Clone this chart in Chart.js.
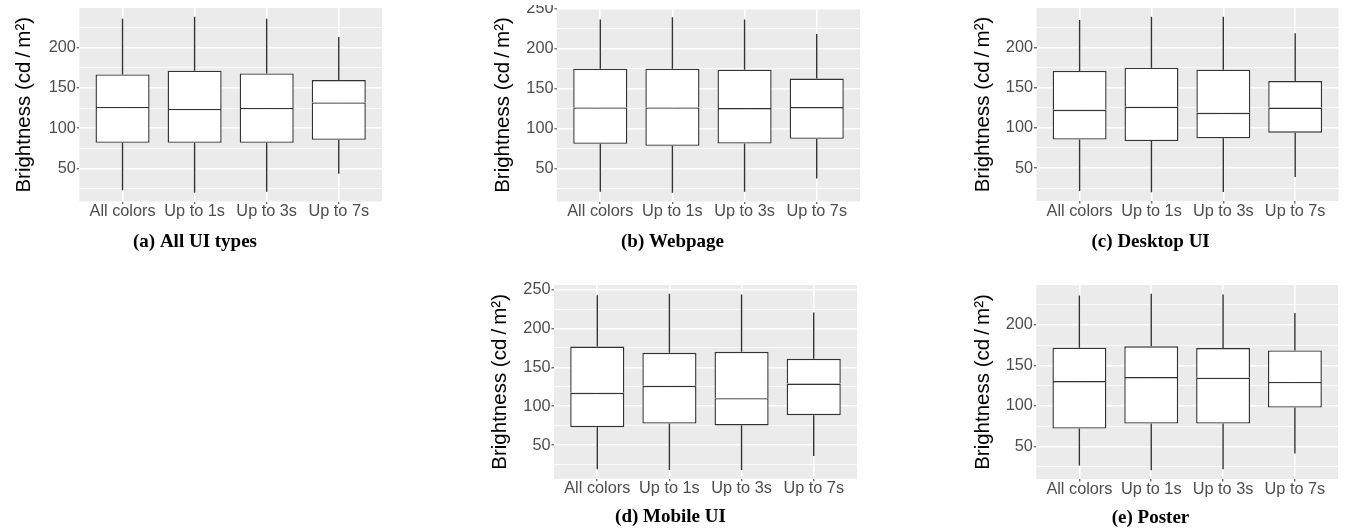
<!DOCTYPE html>
<html>
<head>
<meta charset="utf-8">
<script src="https://cdn.jsdelivr.net/npm/chart.js@4.4.1/dist/chart.umd.min.js"></script>
<style>
  html, body { margin: 0; padding: 0; background: #fff; }
  body { width: 1345px; height: 531px; position: relative; overflow: hidden; }
  canvas { position: absolute; }
</style>
</head>
<body>
<canvas id="chartA"></canvas>
<canvas id="chartB"></canvas>
<canvas id="chartC"></canvas>
<canvas id="chartD"></canvas>
<canvas id="chartE"></canvas>
<script>
// categories + tick labels
const categories = ["All colors", "Up to 1s", "Up to 3s", "Up to 7s"];
const majorTicks = [50, 100, 150, 200, 250];
const minorTicks = [25, 75, 125, 175, 225];
const yTitle = "Brightness (cd\u2009/\u2009m\u00b2)";

// (a) All UI types
const allMin = [22.7, 19.8, 21.0, 43.4];
const allQ1  = [81.8, 81.8, 81.8, 85.5];
const allMed = [126.4, 123.9, 125.2, 132.1];
const allQ3  = [166.9, 171.5, 168.1, 159.9];
const allMax = [236.0, 238.5, 236.0, 213.3];

// (b) Webpage
const webMin = [20.9, 19.8, 21.1, 37.6];
const webQ1  = [81.0, 78.5, 81.4, 87.3];
const webMed = [126.6, 126.6, 125.9, 127.1];
const webQ3  = [175.1, 175.1, 173.9, 162.7];
const webMax = [236.6, 239.5, 236.6, 218.7];

// (c) Desktop UI
const deskMin = [21.5, 19.9, 20.3, 38.9];
const deskQ1  = [85.4, 83.6, 87.0, 94.0];
const deskMed = [122.5, 126.2, 118.7, 125.2];
const deskQ3  = [170.8, 174.9, 172.4, 158.3];
const deskMax = [234.3, 238.2, 238.2, 217.7];

// (d) Mobile UI
const mobMin = [19.0, 18.1, 18.1, 36.1];
const mobQ1  = [73.0, 77.7, 75.2, 88.5];
const mobMed = [117.2, 126.2, 110.3, 129.2];
const mobQ3  = [176.8, 168.7, 170.0, 161.0];
const mobMax = [242.9, 244.6, 243.8, 220.6];

// (e) Poster
const posMin = [26.6, 20.8, 22.0, 41.3];
const posQ1  = [72.1, 78.2, 78.2, 97.9];
const posMed = [130.7, 135.6, 134.8, 129.5];
const posQ3  = [171.7, 173.4, 171.3, 168.4];
const posMax = [236.1, 238.1, 237.3, 214.4];

const BOX_LINE = "#333333";
const TICK_GREY = "#4d4d4d";
const X_AXIS_H = 24;
const CAP_FONT = 19;
const TITLE_FONT = 20.5;
const LINE_W = 1.4;

// page layout of each sub-figure (canvas box + panel edges, page px)
const panels = [
  { id: "chartA", caption: "(a) All UI types", stats: [allMin, allQ1, allMed, allQ3, allMax],
    left: 8,   top: 0,   L: 79.3,   R: 382,    T: 8,   B: 201.5, titleX: 24,  capY: 242 },
  { id: "chartB", caption: "(b) Webpage", stats: [webMin, webQ1, webMed, webQ3, webMax],
    left: 485, top: 5,   L: 557,    R: 860,    T: 8.5, B: 201.5, titleX: 503, capY: 242 },
  { id: "chartC", caption: "(c) Desktop UI", stats: [deskMin, deskQ1, deskMed, deskQ3, deskMax],
    left: 963, top: 0,   L: 1036.5, R: 1338.3, T: 8,   B: 201,   titleX: 983, capY: 242 },
  { id: "chartD", caption: "(d) Mobile UI", stats: [mobMin, mobQ1, mobMed, mobQ3, mobMax],
    left: 484, top: 270, L: 554,    R: 857,    T: 285, B: 478.7, titleX: 500, capY: 517.5 },
  { id: "chartE", caption: "(e) Poster", stats: [posMin, posQ1, posMed, posQ3, posMax],
    left: 963, top: 270, L: 1036.3, R: 1338,   T: 285, B: 479,   titleX: 983, capY: 518 },
];

Chart.defaults.font.family = "'Liberation Sans', Arial, sans-serif";
Chart.defaults.animation = false;

const panelBg = {
  id: "panelBg",
  beforeDraw(chart){
    const { ctx, chartArea: a } = chart;
    ctx.save();
    ctx.fillStyle = "#ebebeb";
    ctx.fillRect(a.left, a.top, a.right - a.left, a.bottom - a.top);
    ctx.restore();
  }
};

function isMajor(v){ return majorTicks.includes(v); }

function buildPanel(p){
  const [lo, q1, med, q3, hi] = p.stats;

  // ggplot-style 5% expansion of the data range
  const dMin = Math.min(...lo), dMax = Math.max(...hi);
  const pad = (dMax - dMin) * 0.05;
  const yMin = dMin - pad, yMax = dMax + pad;

  const el = document.getElementById(p.id);
  const w = Math.ceil(p.R - p.left + 1);
  const h = Math.ceil(p.capY + 16 - p.top);
  el.width = w; el.height = h;
  el.style.left = p.left + "px";
  el.style.top = p.top + "px";

  const capLine = CAP_FONT * 1.2;
  const capPadTop = p.capY - (p.B + X_AXIS_H) - capLine / 2;
  const capPadBottom = h - (p.B - p.top) - X_AXIS_H - capLine - capPadTop;

  const yTickVals = [...majorTicks, ...minorTicks].sort((a, b) => a - b);

  const boxCommon = {
    backgroundColor: "#ffffff",
    borderColor: BOX_LINE,
    borderSkipped: false,
    grouped: false,
    categoryPercentage: 1,
    barPercentage: 0.75,
    inflateAmount: 0,
  };
  const whiskerCommon = {
    backgroundColor: BOX_LINE, borderWidth: 0, grouped: false,
    barThickness: LINE_W, inflateAmount: 0,
  };

  return new Chart(el, {
    type: "bar",
    data: {
      datasets: [
        { ...boxCommon,
          data: categories.map((c, i) => ({ x: i, y: [q1[i], med[i]] })),
          borderWidth: { top: LINE_W, right: LINE_W, bottom: LINE_W, left: LINE_W } },
        { ...boxCommon,
          data: categories.map((c, i) => ({ x: i, y: [med[i], q3[i]] })),
          borderWidth: { top: LINE_W, right: LINE_W, bottom: 0, left: LINE_W } },
        { ...whiskerCommon, data: categories.map((c, i) => ({ x: i, y: [lo[i], q1[i]] })) },
        { ...whiskerCommon, data: categories.map((c, i) => ({ x: i, y: [q3[i], hi[i]] })) },
      ]
    },
    options: {
      responsive: false,
      devicePixelRatio: 1,
      events: [],
      layout: { padding: { top: p.T - p.top, left: 0, right: w - (p.R - p.left), bottom: 0 } },
      plugins: {
        legend: { display: false },
        tooltip: { enabled: false },
        title: {
          display: true,
          position: "bottom",
          text: p.caption,
          color: "#000",
          font: { family: "'Liberation Serif', 'Times New Roman', serif", weight: "bold", size: CAP_FONT, lineHeight: 1.2 },
          padding: { top: capPadTop, bottom: capPadBottom },
        }
      },
      scales: {
        x: {
          type: "linear",
          min: -0.6, max: categories.length - 0.4,
          offset: false,
          afterBuildTicks: s => { s.ticks = categories.map((c, i) => ({ value: i })); },
          afterFit: s => { s.height = X_AXIS_H; s.paddingLeft = 0; s.paddingRight = 0; },
          ticks: {
            callback: v => categories[v],
            color: TICK_GREY, font: { size: 16.3 },
            padding: -2, maxRotation: 0, autoSkip: false,
          },
          grid: { color: "#ffffff", lineWidth: 1.6, offset: false,
                  tickColor: BOX_LINE, tickLength: 2.5, tickWidth: 1 },
          border: { display: false },
        },
        y: {
          type: "linear",
          min: yMin, max: yMax,
          beginAtZero: false,
          afterBuildTicks: s => {
            s.ticks = yTickVals.filter(v => v >= s.min && v <= s.max).map(v => ({ value: v }));
          },
          afterFit: s => { s.width = p.L - p.left; s.paddingTop = 0; s.paddingBottom = 0; },
          ticks: {
            callback: v => isMajor(v) ? String(v) : "",
            color: TICK_GREY, font: { size: 16.3 },
            padding: 1, autoSkip: false,
          },
          grid: {
            color: "#ffffff",
            lineWidth: c => isMajor(c.tick.value) ? 1.6 : 0.8,
            tickColor: c => isMajor(c.tick.value) ? BOX_LINE : "rgba(0,0,0,0)",
            tickLength: 2.5, tickWidth: 1,
          },
          border: { display: false },
          title: {
            display: true,
            text: yTitle,
            color: "#000",
            font: { size: TITLE_FONT, lineHeight: 1.2 },
            padding: { top: p.titleX - p.left - TITLE_FONT * 0.6, bottom: 0 },
          }
        }
      }
    },
    plugins: [panelBg]
  });
}

panels.forEach(buildPanel);
</script>
</body>
</html>
